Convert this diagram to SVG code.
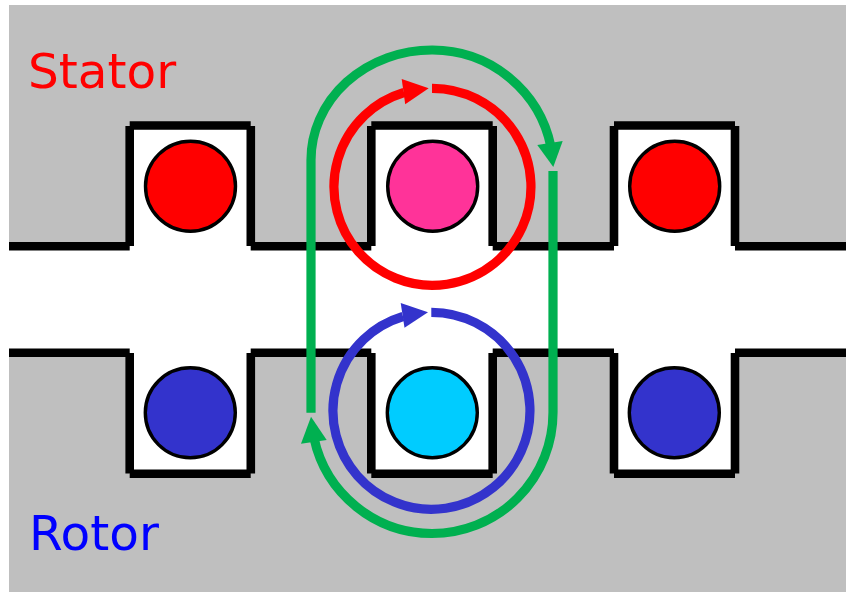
<svg xmlns="http://www.w3.org/2000/svg" width="846" height="592" viewBox="0 0 846 592">
<style>
.wall{stroke:#000;stroke-width:8.6;fill:none}
.cond{stroke:#000;stroke-width:3.4}
.flow{fill:none;stroke-width:9.2}
.label{font-family:"DejaVu Sans",Verdana,sans-serif;font-size:48.500px}
</style>
<rect width="846" height="592" fill="#fff"/>
<path id="core" fill="#bfbfbf" d="M9 5H846V246H735V125.500H614V246H492.700V125.500H371.300V246H250.700V125.500H129.700V246H9ZM9 352.800H129.700V473.800H250.700V352.800H371.300V473.800H492.700V352.800H614V473.800H735V352.800H846V592H9Z"/>
<g id="stator-wall" class="wall">
<path d="M9 246.200H129.700M129.700 126V246M129.700 125.500H250.700M250.800 126V246M250.700 246.200H371.300M371.300 126V246M371.300 125.500H492.700M492.700 126V246M492.700 246.200H614M614 126V246M614 125.500H735M735 126V246M735 246.200H846"/>
</g>
<g id="rotor-wall" class="wall">
<path d="M9 352.800H129.700M129.700 353V473.500M129.700 473.800H250.700M250.800 353V473.500M250.700 352.800H371.300M371.300 353V473.500M371.300 473.800H492.700M492.700 353V473.500M492.700 352.800H614M614 353V473.500M614 473.800H735M735 353V473.500M735 352.800H846"/>
</g>
<g id="stator-left"><circle class="cond" cx="190.500" cy="186.200" r="45" fill="#ff0000"/></g>
<g id="stator-center"><circle class="cond" cx="432.700" cy="186.200" r="45" fill="#ff3399"/></g>
<g id="stator-right"><circle class="cond" cx="674.700" cy="186.200" r="45" fill="#ff0000"/></g>
<g id="rotor-left"><circle class="cond" cx="190.300" cy="412.800" r="45" fill="#3333cc"/></g>
<g id="rotor-center"><circle class="cond" cx="432.300" cy="412.800" r="45" fill="#00ccff"/></g>
<g id="rotor-right"><circle class="cond" cx="674.300" cy="412.800" r="45" fill="#3333cc"/></g>
<g id="connectors">
<g id="rotor-flux">
<path class="flow" stroke="#3333cc" d="M431.300 312.300A98.500 98.500 0 1 1 403 316.500"/>
<polygon fill="#3333cc" points="428,312.300 400.700,303 404.500,327.700"/>
</g>
<g id="stator-flux">
<path class="flow" stroke="#ff0000" d="M432 88.300A98.500 98.500 0 1 1 404 92.500"/>
<polygon fill="#ff0000" points="428.700,88.300 401.700,79 405.200,104.300"/>
</g>
<g id="main-flux">
<path class="flow" stroke="#00b050" d="M311 412.700V160A121 110 0 0 1 432 50A121 121 0 0 1 551 147"/>
<polygon fill="#00b050" points="553.300,167 537.300,145 562.700,141"/>
<path class="flow" stroke="#00b050" d="M553 171V412.500A121 121 0 0 1 432 533.500A121 121 0 0 1 314 438"/>
<polygon fill="#00b050" points="311,416.700 301,443.700 326.700,440"/>
</g>
</g>
<text id="stator-label" class="label" x="28" y="87.500" fill="#ff0000">Stator</text>
<text id="rotor-label" class="label" x="29" y="549.500" fill="#0000ff">Rotor</text>
</svg>
